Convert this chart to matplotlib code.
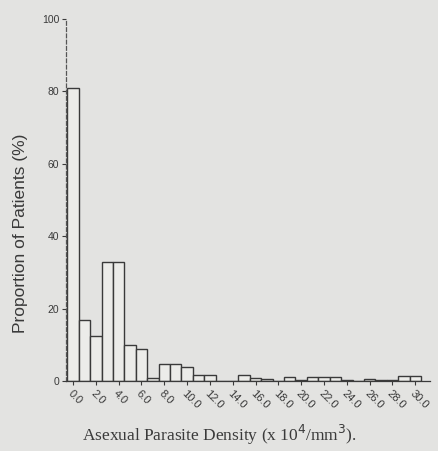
#!/usr/bin/env python3
"""Histogram of asexual parasite density (proportion of patients)."""
import matplotlib.pyplot as plt

# bin starts (x 10^4/mm^3), one bar per unit
bins = list(range(31))
proportion = [81, 17, 12.5, 33, 33, 10, 9, 0.8, 4.6, 4.6, 3.8, 1.6, 1.6, 0, 0, 1.7,
              0.8, 0.6, 0, 1.2, 0.3, 1.2, 1.0, 1.0, 0.4, 0, 0.5, 0.3, 0.4, 1.5, 1.5]
tick_pos = list(range(0, 31, 2))
tick_labels = [f"{v:.1f}" for v in tick_pos]
y_ticks = [0, 20, 40, 60, 80, 100]

PAPER = "#e3e3e1"
INK = "#3a3a3a"


def main() -> None:
    fig = plt.figure(figsize=(4.38, 4.51), dpi=100, facecolor=PAPER)
    ax = fig.add_axes([0.151, 0.155, 0.831, 0.803], facecolor=PAPER)

    ax.bar(bins, proportion, width=1.0, align="center", color="#ecece9",
           edgecolor=INK, linewidth=1.0)

    ax.set_xlim(-0.6, 31.3)
    ax.set_ylim(0, 100)
    ax.set_yticks(y_ticks)
    ax.set_yticklabels([str(v) for v in y_ticks], fontsize=7.5, color=INK,
                       family="Liberation Sans")
    ax.set_xticks(tick_pos)
    ax.set_xticklabels(tick_labels, rotation=-45, ha="left", va="top",
                       rotation_mode="anchor", fontsize=8, color=INK,
                       family="Liberation Sans")
    ax.tick_params(axis="both", length=3, width=0.8, color=INK, pad=2)

    for side in ("top", "right"):
        ax.spines[side].set_visible(False)
    ax.spines["left"].set_linestyle((0, (3, 2)))
    ax.spines["left"].set_color("#555555")
    ax.spines["left"].set_linewidth(0.9)
    ax.spines["bottom"].set_color(INK)
    ax.spines["bottom"].set_linewidth(0.9)

    fig.text(0.046, 0.482, "Proportion of Patients (%)", rotation=90,
             ha="center", va="center", fontsize=12.5, color=INK,
             family="Liberation Sans")
    fig.text(0.502, 0.036, "Asexual Parasite Density (x 10$^4$/mm$^3$).",
             ha="center", va="center", fontsize=12.5, color=INK,
             family="Liberation Serif")

    fig.savefig("out.png", dpi=100, facecolor=PAPER)


if __name__ == "__main__":
    main()
